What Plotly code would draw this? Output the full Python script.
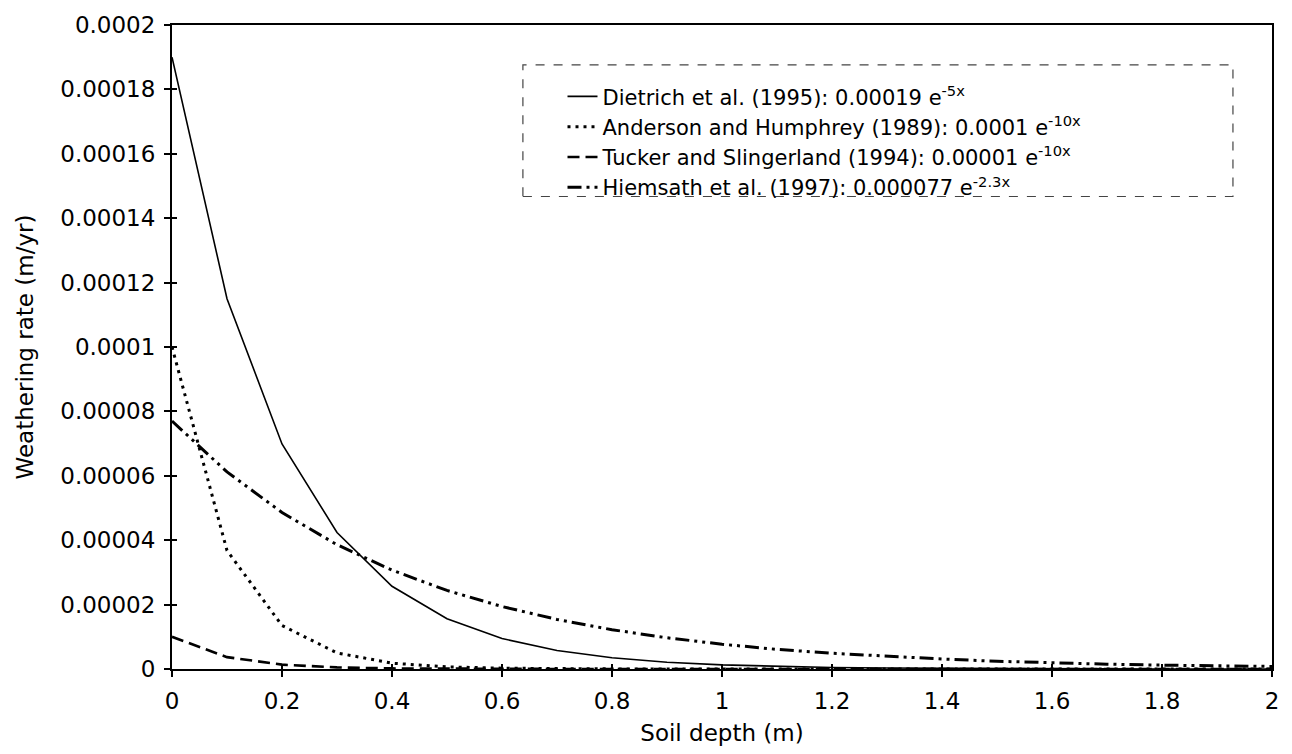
import plotly.graph_objects as go

# Soil depth (m), sampled every 0.1 m
depth = [0.0, 0.1, 0.2, 0.3, 0.4, 0.5, 0.6, 0.7, 0.8, 0.9, 1.0,
         1.1, 1.2, 1.3, 1.4, 1.5, 1.6, 1.7, 1.8, 1.9, 2.0]

# Weathering rate (m/yr)
dietrich = [0.00019, 0.000115, 0.0000699, 0.0000424, 0.0000257, 0.0000156,
            0.00000946, 0.00000574, 0.00000348, 0.00000211, 0.00000128,
            0.00000078, 0.00000047, 0.00000029, 0.00000017, 0.0000001,
            0.00000006, 0.00000004, 0.00000002, 0.00000001, 0.00000001]
anderson = [0.0001, 0.0000368, 0.0000135, 0.000005, 0.0000018, 0.00000067,
            0.00000025, 0.00000009, 0.00000003, 0.00000001, 0.0,
            0.0, 0.0, 0.0, 0.0, 0.0, 0.0, 0.0, 0.0, 0.0, 0.0]
tucker = [0.00001, 0.00000368, 0.00000135, 0.0000005, 0.00000018, 0.00000007,
          0.00000002, 0.00000001, 0.0, 0.0, 0.0,
          0.0, 0.0, 0.0, 0.0, 0.0, 0.0, 0.0, 0.0, 0.0, 0.0]
hiemsath = [0.000077, 0.0000612, 0.0000486, 0.0000386, 0.0000307, 0.0000244,
            0.0000194, 0.0000154, 0.0000122, 0.0000097, 0.0000077,
            0.0000061, 0.0000049, 0.0000039, 0.0000031, 0.0000024,
            0.0000019, 0.0000015, 0.0000012, 0.000001, 0.0000008]

series_names = [
    "Dietrich et al. (1995): 0.00019 e<sup>-5x</sup>",
    "Anderson and Humphrey (1989): 0.0001 e<sup>-10x</sup>",
    "Tucker and Slingerland (1994): 0.00001 e<sup>-10x</sup>",
    "Hiemsath et al. (1997): 0.000077 e<sup>-2.3x</sup>",
]

x_tickvals = [0, 0.2, 0.4, 0.6, 0.8, 1.0, 1.2, 1.4, 1.6, 1.8, 2.0]
x_ticktext = ["0", "0.2", "0.4", "0.6", "0.8", "1", "1.2", "1.4", "1.6", "1.8", "2"]
y_tickvals = [0, 0.00002, 0.00004, 0.00006, 0.00008, 0.0001,
              0.00012, 0.00014, 0.00016, 0.00018, 0.0002]
y_ticktext = ["0", "0.00002", "0.00004", "0.00006", "0.00008", "0.0001",
              "0.00012", "0.00014", "0.00016", "0.00018", "0.0002"]

FONT = "DejaVu Sans"

fig = go.Figure()
fig.add_trace(go.Scatter(x=depth, y=dietrich, mode="lines", name=series_names[0],
                         line=dict(color="black", width=1.6)))
fig.add_trace(go.Scatter(x=depth, y=anderson, mode="lines", name=series_names[1],
                         line=dict(color="black", width=3, dash="3px,5px")))
fig.add_trace(go.Scatter(x=depth, y=tucker, mode="lines", name=series_names[2],
                         line=dict(color="black", width=2.6, dash="12px,6px")))
fig.add_trace(go.Scatter(x=depth, y=hiemsath, mode="lines", name=series_names[3],
                         line=dict(color="black", width=3,
                                   dash="14px,5px,3px,5px,3px,5px")))
# helper trace so the overlay axes (inner tick marks) are drawn
fig.add_trace(go.Scatter(x=[0], y=[0], xaxis="x2", yaxis="y2", mode="lines",
                         showlegend=False, hoverinfo="skip",
                         line=dict(color="rgba(0,0,0,0)")))

axis_common = dict(showgrid=False, zeroline=False, color="black",
                   tickfont=dict(family=FONT, size=23, color="black"))

fig.update_layout(
    width=1292, height=754,
    margin=dict(l=172, r=20, t=25, b=83),
    paper_bgcolor="white", plot_bgcolor="white",
    font=dict(family=FONT, color="black"),
    xaxis=dict(range=[0, 2], tickmode="array", tickvals=x_tickvals,
               ticktext=x_ticktext, ticks="outside", ticklen=6, tickwidth=1.5,
               showline=True, linewidth=2, linecolor="black", mirror=True,
               ticklabelstandoff=4,
               title=dict(text="Soil depth (m)", standoff=12,
                          font=dict(family=FONT, size=23, color="black")),
               **axis_common),
    yaxis=dict(range=[0, 0.0002], tickmode="array", tickvals=y_tickvals,
               ticktext=y_ticktext, ticks="outside", ticklen=6, tickwidth=1.5,
               showline=True, linewidth=2, linecolor="black", mirror=True,
               ticklabelstandoff=4,
               title=dict(text="Weathering rate (m/yr)", standoff=20,
                          font=dict(family=FONT, size=23, color="black")),
               **axis_common),
    xaxis2=dict(overlaying="x", range=[0, 2], tickmode="array", tickvals=x_tickvals,
                ticks="inside", ticklen=5, tickwidth=1.5, tickcolor="black",
                showticklabels=False, showgrid=False, zeroline=False,
                showline=False, anchor="y2", side="bottom"),
    yaxis2=dict(overlaying="y", range=[0, 0.0002], tickmode="array", tickvals=y_tickvals,
                ticks="inside", ticklen=5, tickwidth=1.5, tickcolor="black",
                showticklabels=False, showgrid=False, zeroline=False,
                showline=False, anchor="x2", side="left"),
    legend=dict(x=0.355, y=0.9205, xanchor="left", yanchor="top",
                bgcolor="rgba(255,255,255,0)", borderwidth=0,
                font=dict(family=FONT, size=21, color="black"),
                tracegroupgap=0, itemwidth=30),
    showlegend=True,
)

# dashed legend frame
fig.add_shape(type="rect", xref="paper", yref="paper",
              x0=0.319, x1=0.9645, y0=0.7337, y1=0.938,
              line=dict(color="#444444", width=1.2, dash="dash"),
              fillcolor="rgba(0,0,0,0)", layer="below")

fig.write_html("out.html")
